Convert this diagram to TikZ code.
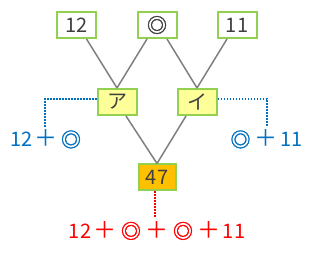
\documentclass[tikz,border=0pt]{standalone}
\usepackage{fontspec}
\setmainfont{Noto Sans CJK JP}
\newfontfamily\symf{Noto Sans CJK JP}[FakeBold=1.5,Scale=1.0]
\newfontfamily\plf{Noto Sans CJK JP}[Scale=1.15]
\newcommand\cw[2]{\makebox[#1pt]{#2}}
\newcommand\dm{{\symf ◎}}
\newcommand\pl{{\plf ＋}}
\definecolor{boxgreen}{HTML}{92D050}
\definecolor{ylw}{HTML}{FFFF99}
\definecolor{orng}{HTML}{FFC000}
\definecolor{lgray}{HTML}{808080}
\definecolor{txtgray}{HTML}{404040}
\definecolor{blu}{HTML}{0070C0}
\definecolor{rd}{HTML}{FF0000}
\begin{document}
\begin{tikzpicture}[x=1pt,y=-1pt,
  numbox/.style={draw=boxgreen,line width=2pt,fill=white,minimum width=39pt,minimum height=26pt,inner sep=0pt,text=txtgray,font=\fontsize{20}{20}\selectfont},
  conn/.style={draw=lgray,line width=1.5pt},
  bluedot/.style={draw=blu,line width=1.5pt,dash pattern=on 1.5pt off 1.5pt},
  reddot/.style={draw=rd,line width=1.5pt,dash pattern=on 1.5pt off 1.5pt},
  lbl/.style={inner sep=0pt,anchor=base,font=\fontsize{20}{20}\selectfont}]
\useasboundingbox[fill=white] (0,0) rectangle (313,256);
\node[numbox] (t12) at (76.5,25) {12};
\node[numbox] (tc) at (157,25) {\dm};
\node[numbox] (t11) at (237,25) {11};
\node[numbox,fill=ylw] (a) at (117,102) {ア};
\node[numbox,fill=ylw] (i) at (197,102) {イ};
\node[numbox,fill=orng,minimum width=37pt] (r) at (157,177.5) {47};
\draw[conn] ([xshift=10pt]t12.south) -- (a.north);
\draw[conn] ([xshift=-10pt]tc.south) -- (a.north);
\draw[conn] ([xshift=10pt]tc.south) -- (i.north);
\draw[conn] ([xshift=-10pt]t11.south) -- (i.north);
\draw[conn] ([xshift=9pt]a.south) -- (r.north);
\draw[conn] ([xshift=-11pt]i.south) -- (r.north);
\coordinate (bl) at (45,127);
\coordinate (br) at (267,127);
\coordinate (rc) at (155,217);
\draw[bluedot] ([yshift=3pt]a.west) -| (bl);
\draw[bluedot] ([yshift=3pt]i.east) -| (br);
\draw[reddot] ([xshift=-2pt]r.south) -- (rc);
\node[lbl,text=blu] (lb) at (47.5,147) {\cw{22}{12}\cw{25}{\pl}\cw{26}{\dm}};
\node[lbl,text=blu] (rb) at (266,147) {\cw{26}{\dm}\cw{25}{\pl}\cw{26}{11}};
\node[lbl,text=rd] (rl) at (157,238.5) {\cw{24}{12}\cw{26}{\pl}\cw{26}{\dm}\cw{26}{\pl}\cw{26}{\dm}\cw{26}{\pl}\cw{24}{11}};
\end{tikzpicture}
\end{document}
